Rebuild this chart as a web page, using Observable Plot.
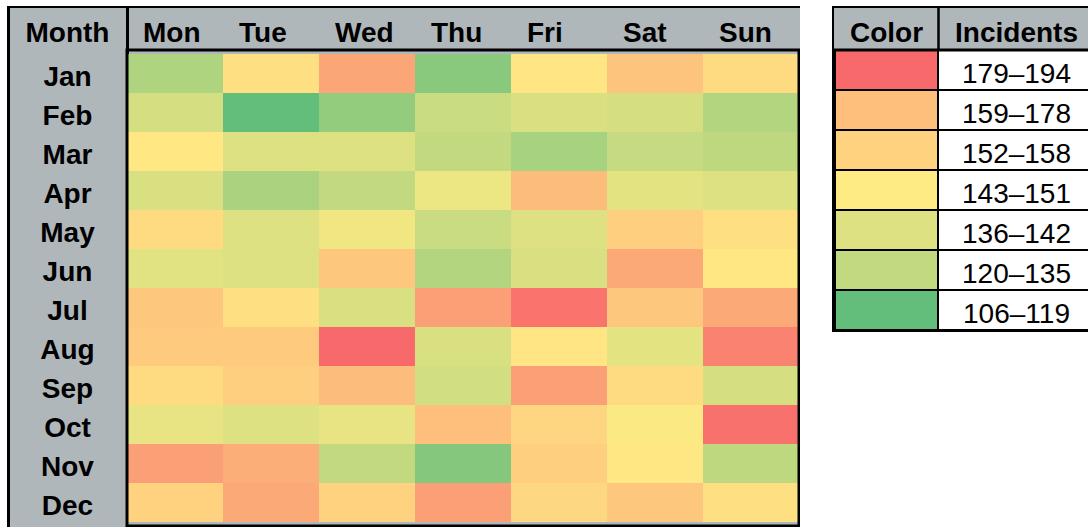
<!DOCTYPE html>
<html><head><meta charset="utf-8">
<script src="https://cdn.jsdelivr.net/npm/d3@7"></script>
<script src="https://cdn.jsdelivr.net/npm/@observablehq/plot@0.6"></script>
<style>
html,body{margin:0;padding:0;background:#fff;overflow:hidden;width:1088px;height:527px;}
#main{position:absolute;left:7px;top:6px;border-left:3px solid #000;border-top:2px solid #000;line-height:0;}
#legend{position:absolute;left:832px;top:6px;width:254px;border-left:2px solid #000;border-top:2px solid #000;line-height:0;overflow:hidden;}
</style></head><body>
<div id="main"></div><div id="legend"></div>
<script>
// ---- data ----
const days = ["Mon","Tue","Wed","Thu","Fri","Sat","Sun"];
const months = ["Jan","Feb","Mar","Apr","May","Jun","Jul","Aug","Sep","Oct","Nov","Dec"];
const jan = [126,151,172,116,149,161,153];
const feb = [136,106,119,133,137,136,127];
const mar = [148,138,138,131,124,132,130];
const apr = [137,125,131,142,164,140,138];
const may = [153,138,143,133,138,157,151];
const jun = [139,138,160,127,137,171,148];
const jul = [160,151,137,174,190,160,171];
const aug = [159,159,194,137,149,140,185];
const sep = [153,157,164,135,174,153,136];
const oct = [141,138,141,163,155,146,191];
const nov = [174,169,131,115,157,148,130];
const dec = [156,171,156,174,154,160,151];
const cornerLabel = "Month";
const legendTitles = ["Color","Incidents"];
const legendLabels = ["179–194","159–178","152–158","143–151","136–142","120–135","106–119"];
const legendValues = [194,163,156,147,138,131,106];
const colorDomain = [106,147,194]; // min, midpoint, max

// ---- build ----
const rows = [jan,feb,mar,apr,may,jun,jul,aug,sep,oct,nov,dec];
const cells = months.flatMap((m,i)=>days.map((d,j)=>({month:m, day:d, value:rows[i][j]})));
const legendRows = legendLabels.map((label,i)=>({label, value:legendValues[i]}));

const font = "'Liberation Sans', Arial, sans-serif";
const gray = "#B0B7BB";
const colorScale = {type:"linear", domain:colorDomain, range:["#63BE7B","#FFEB84","#F8696B"], interpolate:"rgb"};

const W=790, H=519, mt=41.5, ml=116.5, mr=1.5, mb=1.5;
const bw = (W-ml-mr)/days.length;
const main = Plot.plot({
  width:W, height:H, marginTop:mt, marginLeft:ml, marginRight:mr, marginBottom:mb,
  style:{background:gray, fontFamily:font, maxWidth:"none"},
  x:{type:"band", domain:days, padding:0, label:null},
  y:{type:"band", domain:months, padding:0, label:null},
  color:colorScale,
  marks:[
    Plot.ruleX([days[0]], {x:d=>d, dx:-bw/2, dy:-mt, stroke:"#000", strokeWidth:3}),
    Plot.cell(cells, {x:"day", y:"month", fill:"value", inset:0, shapeRendering:"crispEdges"}),
    Plot.frame({stroke:"#000", strokeWidth:3}),
    Plot.axisX({anchor:"top", tickSize:0, tickPadding:8, textAnchor:"start", dx:-bw/2+15.5, fontSize:28, fontWeight:"bold", label:null}),
    Plot.axisY({anchor:"left", tickSize:0, tickPadding:59.5, textAnchor:"middle", dy:3, fontSize:28, fontWeight:"bold", label:null}),
    Plot.text([cornerLabel], {frameAnchor:"top-left", dx:-59.5, dy:-8, textAnchor:"middle", lineAnchor:"bottom", fontSize:28, fontWeight:"bold"})
  ]
});
document.getElementById("main").appendChild(main);

const LW=254, LH=324, lmt=41.5, lmb=1.5, swatchW=104, incCenter=182;
const legend = Plot.plot({
  width:LW, height:LH, marginTop:lmt, marginBottom:lmb, marginLeft:0, marginRight:-3,
  style:{background:gray, fontFamily:font, maxWidth:"none"},
  x:{type:"point", domain:legendTitles, range:[swatchW/2, incCenter], padding:0, label:null},
  y:{type:"band", domain:legendLabels, padding:0, label:null},
  color:colorScale,
  marks:[
    Plot.ruleX([legendTitles[0]], {x:d=>d, dx:swatchW/2, dy:-lmt, stroke:"#000", strokeWidth:2.5}),
    Plot.cell(legendRows, {y:"label", fill:"white", stroke:"#000", strokeWidth:2, inset:0}),
    Plot.cell(legendRows, {y:"label", fill:"value", stroke:"#000", strokeWidth:2, inset:0, insetRight:LW+3-swatchW}),
    Plot.frame({stroke:"#000", strokeWidth:3}),
    Plot.axisX({anchor:"top", tickSize:0, tickPadding:8, fontSize:28, fontWeight:"bold", label:null}),
    Plot.axisY({anchor:"left", tickSize:0, tickPadding:-incCenter, textAnchor:"middle", dy:4, fontSize:28, fontWeight:"normal", label:null})
  ]
});
document.getElementById("legend").appendChild(legend);
</script>
</body></html>
